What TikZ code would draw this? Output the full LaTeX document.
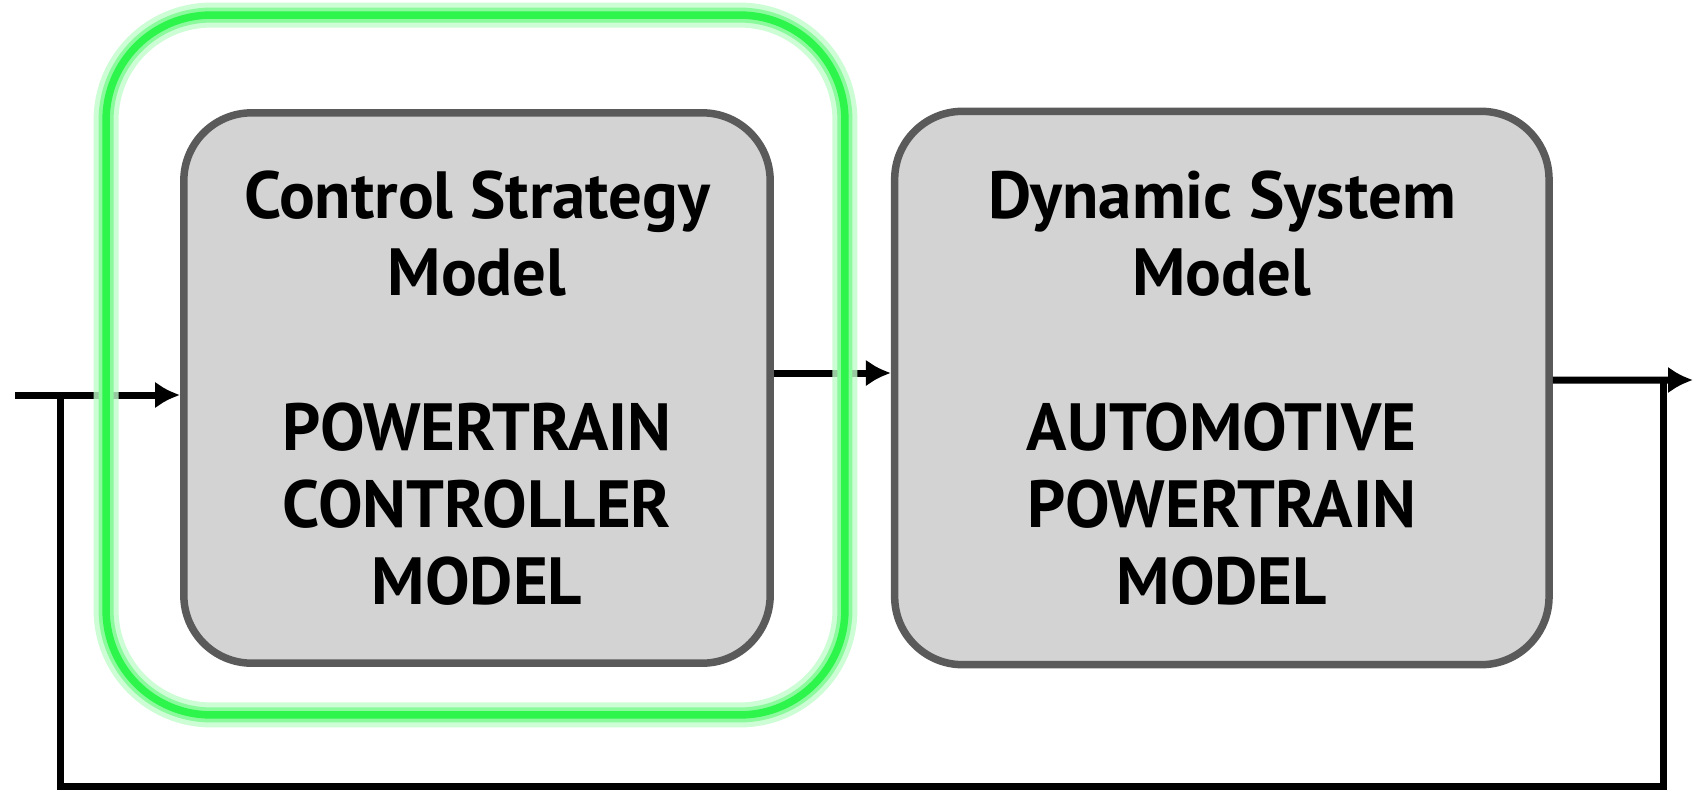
\documentclass[tikz,border=0pt]{standalone}
\usepackage{fontspec}
\setmainfont{PT Sans}
\usepackage{xcolor}
\usetikzlibrary{arrows.meta}
\definecolor{boxgray}{HTML}{D3D3D3}
\definecolor{edgegray}{HTML}{5A5A5A}
\definecolor{selgreen}{HTML}{2DF54C}
\tikzset{>={Latex[length=0.5cm,width=0.54cm]}}

\begin{document}
\begin{tikzpicture}[x=0.02cm, y=-0.02cm]
    % blk = model block, sel = green frame round the controller, sig = signal line
    \tikzstyle{blk}=[draw=edgegray, fill=boxgray, line width=0.15cm, rounded corners=1.36cm,
                     align=center, font=\fontsize{38}{44}\selectfont\bfseries, node distance=14.9cm]
    \tikzstyle{sig}=[->, line width=0.14cm]
    \tikzstyle{sel}=[draw=selgreen, line width=0.15cm, rounded corners=2.1cm, inner sep=0pt,
                     preaction={draw=selgreen!30, line width=0.5cm, opacity=0.8},
                     preaction={draw=selgreen!55, line width=0.3cm}]
    \useasboundingbox (0,0) rectangle (1693,791);

    \node[blk, minimum width=11.73cm, minimum height=11.01cm] (ctrl) at (477,388)
        {Control Strategy\\Model\\[44pt]POWERTRAIN\\CONTROLLER\\MODEL};
    \node[blk, minimum width=13.09cm, minimum height=11.07cm] (plant) [right of = ctrl]
        {Dynamic System\\Model\\[44pt]AUTOMOTIVE\\POWERTRAIN\\MODEL};

    \coordinate (in) at (15,395);
    \coordinate (out) at (1693,380);
    \coordinate (fbr) at (1663,380);
    \coordinate (fbl) at (60,395);
    \coordinate (bot) at (60,786);

    \draw[sig] (in) -- (in -| ctrl.west);
    \draw[sig] ([yshift=0.3cm]ctrl.east) -- ([yshift=0.3cm]plant.west);
    \draw[sig] ([yshift=0.16cm]plant.east) -- (out);
    % feedback path
    \draw[line width=0.14cm] (fbr) |- (bot) -- (fbl);

    \node[sel, minimum width=14.78cm, minimum height=14cm] (frame) at (475.5,365) {};
\end{tikzpicture}
\end{document}
